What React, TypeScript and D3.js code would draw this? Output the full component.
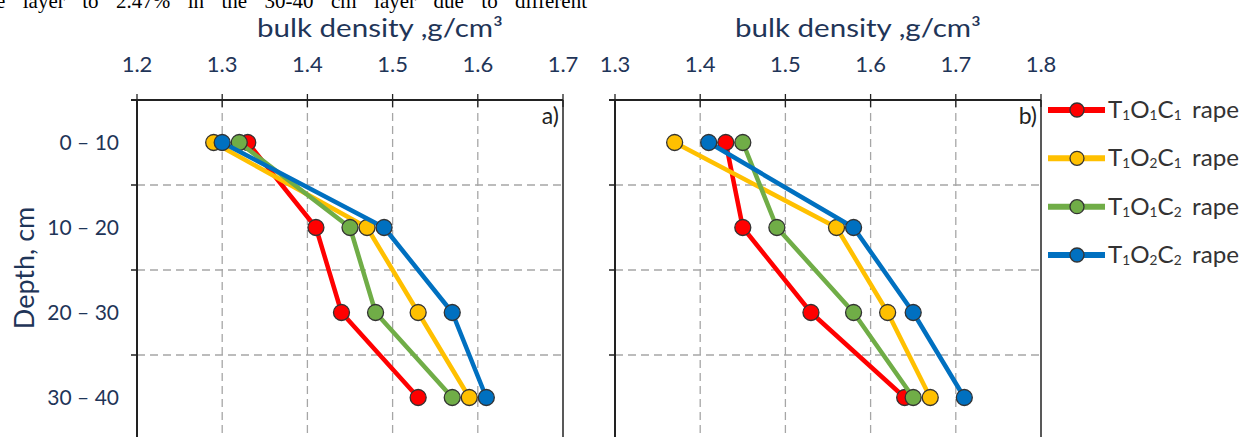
import { useEffect, useRef } from 'react';
import * as d3 from 'd3';

const depthLabels = ['0 – 10', '10 – 20', '20 – 30', '30 – 40'];
const seriesNames = ['T1O1C1', 'T1O2C1', 'T1O1C2', 'T1O2C2'];
const seriesColors = ['#ff0000', '#ffc000', '#70ad47', '#0070c0'];

// panel a) values per depth layer
const aT1O1C1 = [1.33, 1.41, 1.44, 1.53];
const aT1O2C1 = [1.29, 1.47, 1.53, 1.59];
const aT1O1C2 = [1.32, 1.45, 1.48, 1.57];
const aT1O2C2 = [1.3, 1.49, 1.57, 1.61];

// panel b) values per depth layer
const bT1O1C1 = [1.43, 1.45, 1.53, 1.64];
const bT1O2C1 = [1.37, 1.56, 1.62, 1.67];
const bT1O1C2 = [1.45, 1.49, 1.58, 1.65];
const bT1O2C2 = [1.41, 1.58, 1.65, 1.71];

const paragraph = 'e layer to 2.47% in the 30-40 cm layer due to different';

const W = 1243;
const H = 437;
const TOP = 100;
const BOTTOM = 440;
const TEXT = '#1f3558';
const FONT = 'Lato, "Open Sans", sans-serif';

type PanelProps = {
  x0: number;
  x1: number;
  domain: [number, number];
  series: number[][];
  tag: string;
};

function Label({ name, x, y }: { name: string; x: number; y: number }) {
  // letters normal, digits as subscripts
  const parts = name.split('');
  return (
    <text x={x} y={y} fontFamily={FONT} fontSize={23} fill="#333"
      textLength={131} lengthAdjust="spacingAndGlyphs">
      {parts.map((c, i) =>
        /\d/.test(c) ? (
          <tspan key={i} fontSize={13} dy={2}>
            {c}
          </tspan>
        ) : (
          <tspan key={i} dy={i > 0 && /\d/.test(parts[i - 1]) ? -2 : 0}>
            {c}
          </tspan>
        )
      )}
      <tspan dy={-2} dx={10}>rape</tspan>
    </text>
  );
}

function Panel({ x0, x1, domain, series, tag }: PanelProps) {
  const x = d3.scaleLinear().domain(domain).range([x0, x1]);
  const y = d3.scaleBand<string>().domain(depthLabels).range([TOP, BOTTOM]);
  const ticks = d3.range(0, 6).map((i) => domain[0] + i * 0.1);
  const fmt = d3.format('.1f');
  const bounds = depthLabels.slice(1).map((d) => y(d) as number);
  const line = d3
    .line<number>()
    .x((v) => x(v))
    .y((_, i) => (y(depthLabels[i]) as number) + y.bandwidth() / 2);

  return (
    <g>
      {/* grid */}
      {ticks.slice(1, -1).map((t) => (
        <line key={'v' + t} x1={x(t)} x2={x(t)} y1={TOP} y2={BOTTOM}
          stroke="#a6a6a6" strokeWidth={1.3} strokeDasharray="8,5" />
      ))}
      {bounds.map((b) => (
        <line key={'h' + b} x1={x0} x2={x1} y1={b} y2={b}
          stroke="#a6a6a6" strokeWidth={1.3} strokeDasharray="8,5" />
      ))}
      {/* frame */}
      <line x1={x0 - 6} x2={x1} y1={TOP} y2={TOP} stroke="#222" strokeWidth={2} />
      <line x1={x0} x2={x0} y1={TOP} y2={BOTTOM} stroke="#222" strokeWidth={2} />
      <line x1={x1} x2={x1} y1={TOP} y2={BOTTOM} stroke="#222" strokeWidth={1.5} />
      {ticks.map((t) => (
        <g key={'t' + t}>
          <line x1={x(t)} x2={x(t)} y1={TOP - 6} y2={TOP + 7} stroke="#222" strokeWidth={1.3} />
          <text x={x(t)} y={72} textAnchor="middle" fontFamily={FONT} fontSize={22} fill={TEXT}>
            {fmt(t)}
          </text>
        </g>
      ))}
      {bounds.map((b) => (
        <line key={'yt' + b} x1={x0 - 6} x2={x0} y1={b} y2={b} stroke="#222" strokeWidth={1.5} />
      ))}
      <text x={x1 - 4} y={124} textAnchor="end" fontFamily={FONT} fontSize={23} fill="#222">
        {tag}
      </text>
      <text x={(x0 + x1) / 2 + 30} y={37} textAnchor="middle" fontFamily={FONT}
        fontSize={25} fill={TEXT} textLength={246} lengthAdjust="spacingAndGlyphs">
        bulk density ,g/cm³
      </text>
      {/* series */}
      {series.map((vals, s) => (
        <g key={s}>
          <path d={line(vals) || ''} fill="none" stroke={seriesColors[s]} strokeWidth={4.5}
            strokeLinejoin="round" />
          {vals.map((v, i) => (
            <circle key={i} cx={x(v)} cy={(y(depthLabels[i]) as number) + y.bandwidth() / 2}
              r={8} fill={seriesColors[s]} stroke="#333" strokeWidth={1.3} />
          ))}
        </g>
      ))}
    </g>
  );
}

export default function App() {
  const paraRef = useRef<SVGTextElement>(null);
  const y = d3.scaleBand<string>().domain(depthLabels).range([TOP, BOTTOM]);
  const legendY = d3.scaleLinear().domain([0, 3]).range([110, 255]);

  // justify the cropped paragraph line across its width
  useEffect(() => {
    const el = paraRef.current;
    if (!el) return;
    const len = el.getComputedTextLength();
    const gaps = paragraph.split(' ').length - 1;
    el.setAttribute('word-spacing', String((591 - len) / gaps));
  }, []);

  return (
    <svg width={W} height={H} style={{ position: 'absolute', left: 0, top: 0, background: '#fff' }}>
      <text ref={paraRef} x={-4} y={8} fontFamily='"Liberation Serif", serif' fontSize={21} fill="#000">
        {paragraph}
      </text>
      <Panel x0={137} x1={563} domain={[1.2, 1.7]} tag="a)"
        series={[aT1O1C1, aT1O2C1, aT1O1C2, aT1O2C2]} />
      <Panel x0={615} x1={1041} domain={[1.3, 1.8]} tag="b)"
        series={[bT1O1C1, bT1O2C1, bT1O1C2, bT1O2C2]} />
      {depthLabels.map((d) => (
        <text key={d} x={119} y={(y(d) as number) + y.bandwidth() / 2 + 7} textAnchor="end"
          fontFamily={FONT} fontSize={21} fill={TEXT}>
          {d}
        </text>
      ))}
      <text transform="translate(34,268) rotate(-90)" textAnchor="middle" fontFamily={FONT}
        fontSize={27} fill={TEXT}>
        Depth, cm
      </text>
      {/* legend */}
      {seriesNames.map((n, i) => (
        <g key={n}>
          <line x1={1048} x2={1105} y1={legendY(i)} y2={legendY(i)} stroke={seriesColors[i]} strokeWidth={6} />
          <circle cx={1077} cy={legendY(i)} r={7} fill={seriesColors[i]} stroke="#333" strokeWidth={1.3} />
          <Label name={n} x={1108} y={legendY(i) + 8} />
        </g>
      ))}
    </svg>
  );
}
